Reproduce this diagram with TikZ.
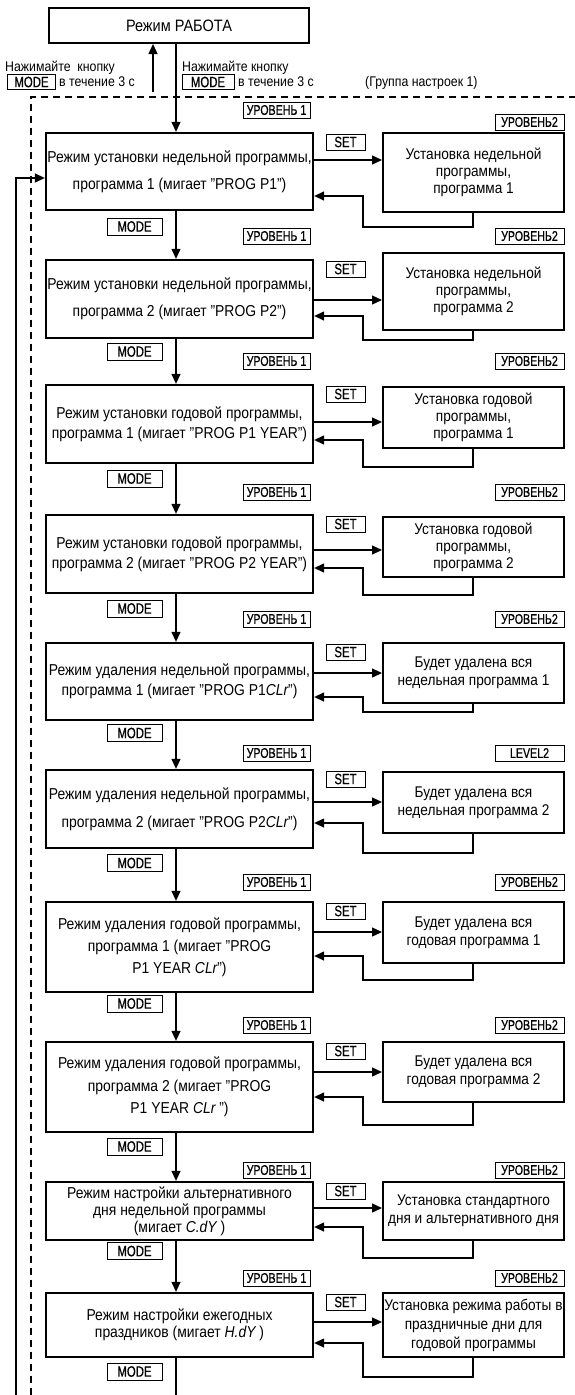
\documentclass[tikz,border=0pt]{standalone}
\usepackage{fontspec}
\setmainfont{Liberation Sans}[FakeStretch=0.88]
\newfontfamily\labfont{Liberation Sans}[FakeStretch=0.76,FakeBold=0.6]
\usetikzlibrary{arrows.meta}
\newcommand{\seg}[1]{{\itshape #1}}
\begin{document}
\begin{tikzpicture}[x=1pt,y=-1pt,
  main/.style n args={2}{draw, line width=2.3pt, minimum width=267pt, minimum height=#1pt,
     inner sep=0pt, align=center, font={\fontsize{15.8}{#2}\selectfont}},
  rbox/.style n args={2}{draw, line width=2pt, minimum width=181pt, minimum height=#1pt,
     inner sep=0pt, align=center, font={\fontsize{15.5}{#2}\selectfont}},
  topbox/.style={draw, line width=2pt, minimum width=260pt, minimum height=35pt,
     inner sep=0pt, font={\fontsize{16.5}{18}\selectfont}},
  lab/.style={draw, line width=0.9pt, inner sep=0pt, minimum height=16pt,
     font={\labfont\fontsize{14}{14}\selectfont}},
  lvl/.style={lab, minimum width=67pt},
  setb/.style={lab, minimum width=39pt, font={\labfont\fontsize{15}{15}\selectfont}},
  modeb/.style={lab, minimum width=55pt, minimum height=17pt, font={\labfont\fontsize{15}{15}\selectfont}},
  txt/.style={inner sep=0pt, anchor=west, font={\fontsize{14}{15}\selectfont}},
  ln/.style={line width=1.3pt},
  arr/.style={ln, -{Triangle[length=10pt,width=9pt]}},
  dsh/.style={line width=1.2pt, dash pattern=on 7pt off 5pt}]
\useasboundingbox (0,0) rectangle (575,1395);

% helper coordinates
\coordinate (col) at (176,0);
\coordinate (ex) at (473,0);
\coordinate (lx) at (363,0);
\coordinate (fb) at (16,1395);
\coordinate (bot) at (176,1395);
\coordinate (upst) at (153,92);
\coordinate (dv) at (31,1395);
\coordinate (dc) at (31,97);
\coordinate (dh) at (575,97);

% top
\node[topbox] (top) at (179,25.5) {Режим РАБОТА};
\node[txt] (t1) at (5,68) {Нажимайте\ \ кнопку};
\node[modeb, minimum height=15pt, minimum width=48pt] (tm1) at (31.5,82) {MODE};
\node[txt] (t2) at (59,82) {в течение 3 с};
\node[txt] (t3) at (182,68) {Нажимайте кнопку};
\node[modeb, minimum height=15pt, minimum width=52pt] (tm2) at (208,82) {MODE};
\node[txt] (t4) at (238,82) {в течение 3 с};
\node[txt] (grp) at (365,83) {(Группа настроек 1)};

\draw[dsh] (dv) -- (dc) -- (dh);

% main boxes
\node[main={77}{27}] (m1) at (179.5,171.5) {Режим установки недельной программы,\\программа 1 (мигает "PROG P1")};
\node[main={78}{27}] (m2) at (179.5,299) {Режим установки недельной программы,\\программа 2 (мигает "PROG P2")};
\node[main={78}{20}] (m3) at (179.5,424) {Режим установки годовой программы,\\программа 1 (мигает "PROG P1 YEAR")};
\node[main={78}{20}] (m4) at (179.5,554) {Режим установки годовой программы,\\программа 2 (мигает "PROG P2 YEAR")};
\node[main={77}{20}] (m5) at (179.5,681.5) {Режим удаления недельной программы,\\программа 1 (мигает "PROG P1\seg{CLr}")};
\node[main={78}{28}] (m6) at (179.5,809) {Режим удаления недельной программы,\\программа 2 (мигает "PROG P2\seg{CLr}")};
\node[main={90}{22}] (m7) at (179.5,947) {Режим удаления годовой программы,\\программа 1 (мигает "PROG\\P1 YEAR \seg{CLr}")};
\node[main={90}{22.5}] (m8) at (179.5,1087) {Режим удаления годовой программы,\\программа 2 (мигает "PROG\\P1 YEAR \seg{CLr} ")};
\node[main={58}{17}] (m9) at (179.5,1211) {Режим настройки альтернативного\\дня недельной программы\\(мигает \seg{C.dY} )};
\node[main={64}{17}] (m10) at (179.5,1325) {Режим настройки ежегодных\\праздников (мигает \seg{H.dY} )};

% right boxes
\node[rbox={79}{17}] (r1) at (473.5,172.5) {Установка недельной\\программы,\\программа 1};
\node[rbox={77}{17}] (r2) at (473.5,291.5) {Установка недельной\\программы,\\программа 2};
\node[rbox={61}{17}] (r3) at (473.5,417.5) {Установка годовой\\программы,\\программа 1};
\node[rbox={60}{17}] (r4) at (473.5,547) {Установка годовой\\программы,\\программа 2};
\node[rbox={60}{18}] (r5) at (473.5,673) {Будет удалена вся\\недельная программа 1};
\node[rbox={61}{18}] (r6) at (473.5,802.5) {Будет удалена вся\\недельная программа 2};
\node[rbox={61}{18}] (r7) at (473.5,932.5) {Будет удалена вся\\годовая программа 1};
\node[rbox={60}{18}] (r8) at (473.5,1072) {Будет удалена вся\\годовая программа 2};
\node[rbox={58}{18}] (r9) at (473.5,1211) {Установка стандартного\\дня и альтернативного дня};
\node[rbox={64}{19}] (r10) at (473.5,1325) {Установка режима работы в\\праздничные дни для\\годовой программы};

% level labels
\node[lvl] (a1) at (276.5,110) {УРОВЕНЬ 1};
\node[lvl, minimum width=69pt] (b1) at (529.5,122) {УРОВЕНЬ2};
\foreach \i/\y in {2/236,3/361,4/492,5/619,6/753,7/882,8/1025,9/1170,10/1278}{
  \node[lvl] (a\i) at (276.5,\y) {УРОВЕНЬ 1};
}
\foreach \i/\y in {2/236,3/361,4/492,5/619,7/882,8/1025,9/1170,10/1278}{
  \node[lvl, minimum width=69pt] (b\i) at (529.5,\y) {УРОВЕНЬ2};
}
\node[lvl, minimum width=69pt] (b6) at (529.5,753) {LEVEL2};

% SET and MODE buttons
\foreach \i/\y in {1/142,2/269,3/394,4/524,5/652,6/779,7/911,8/1051,9/1191,10/1302}{
  \node[setb] (s\i) at (345.5,\y) {SET};
}
\foreach \i/\y in {1/226.5,2/351.5,3/478.5,4/608.5,5/733,6/863,7/1003.5,8/1146.5,9/1251,10/1371.5}{
  \node[modeb] (k\i) at (134.5,\y) {MODE};
}

% top arrows
\draw[arr] (upst) -- (upst |- top.south);
\draw[arr] (top.south -| col) -- (m1.north -| col);

% main column
\foreach \i in {1,...,9}{
  \pgfmathtruncatemacro\j{\i+1}
  \draw[arr] (m\i.south -| col) -- (m\j.north -| col);
}
\draw[ln] (m10.south -| col) -- (bot);

% feedback loop into first box
\draw[arr] (fb) |- ([yshift=-6.5pt]m1.west);

% SET arrows and returns
\foreach \i/\s/\r/\l in {1/160/196/227,2/300/316/340,3/422/440/467,4/550/568/595,5/673/697/712,
  6/802/823/853,7/932/956/980,8/1072/1097/1125,9/1208/1227/1258,10/1322/1343/1377}{
  \draw[arr] (m\i.east |- 0,\s) -- (r\i.west |- 0,\s);
  \draw[arr] (r\i.south -| ex) -- (ex |- 0,\l) -| (lx |- 0,\r) -- (m\i.east |- 0,\r);
}
\end{tikzpicture}
\end{document}
